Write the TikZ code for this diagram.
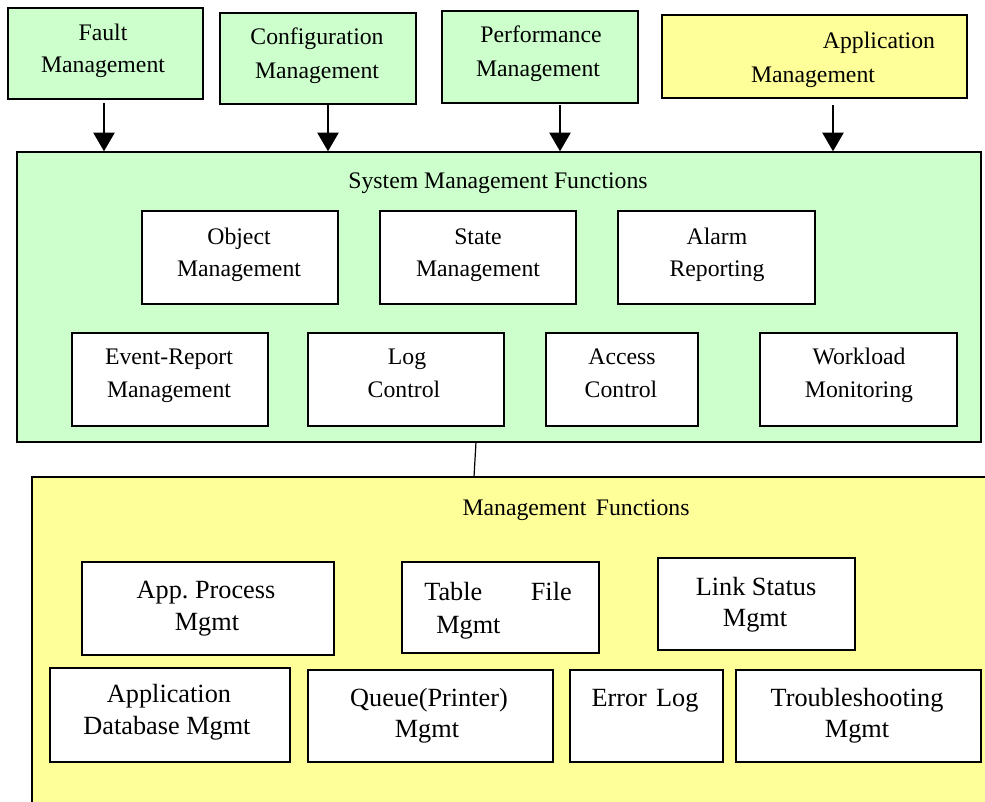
\documentclass[tikz,border=0pt]{standalone}
\usepackage{fontspec}
\setmainfont{Liberation Serif}
\usetikzlibrary{arrows.meta,fit}
\definecolor{mgreen}{HTML}{CCFFCC}
\definecolor{myellow}{HTML}{FFFF99}
\tikzset{
 boxg/.style={draw=black, line width=1.1pt, fill=mgreen, inner sep=0pt},
 boxy/.style={draw=black, line width=1.1pt, fill=myellow, inner sep=0pt},
 boxw/.style={draw=black, line width=1.1pt, fill=white, inner sep=0pt},
 tu/.style={inner sep=0pt, anchor=base, font=\fontsize{17.8}{21}\selectfont},
 tl/.style={inner sep=0pt, anchor=base, font=\fontsize{19.7}{23}\selectfont},
 arr/.style={line width=1.1pt, -{Triangle[length=14pt,width=16pt]}},
 conn/.style={line width=0.9pt},
}
\begin{document}
\begin{tikzpicture}[x=0.75pt,y=-0.75pt]
\useasboundingbox (0,0) rectangle (985,801);
\begin{scope}
\clip (0,0) rectangle (985,801);
% top boxes
\node[boxg, fit={(8,8) (203,99)}] (fault) {};
\node[tu] (faultA) at (103,40) {Fault};
\node[tu] (faultB) at (103,72) {Management};
\node[boxg, fit={(220,13) (416,104)}] (conf) {};
\node[tu] (confA) at (317,44) {Configuration};
\node[tu] (confB) at (317,78) {Management};
\node[boxg, fit={(442,11) (638,103)}] (perf) {};
\node[tu] (perfA) at (541,42) {Performance};
\node[tu] (perfB) at (538,76) {Management};
\node[boxy, fit={(662,15) (967,98)}] (app) {};
\node[tu] (appA) at (879,48) {Application};
\node[tu] (appB) at (813,82) {Management};
% system management functions
\node[boxg, fit={(17,152) (981,442)}] (sys) {};
\node[tu] (sysT) at (498,188) {System Management Functions};
\node[boxw, fit={(142,211) (338,304)}] (obj) {};
\node[tu] (objA) at (239,244) {Object};
\node[tu] (objB) at (239,276) {Management};
\node[boxw, fit={(380,211) (576,304)}] (state) {};
\node[tu] (stateA) at (478,244) {State};
\node[tu] (stateB) at (478,276) {Management};
\node[boxw, fit={(618,211) (815,304)}] (alarm) {};
\node[tu] (alarmA) at (717,244) {Alarm};
\node[tu] (alarmB) at (717,276) {Reporting};
\node[boxw, fit={(72,333) (268,426)}] (event) {};
\node[tu] (eventA) at (169,364) {Event-Report};
\node[tu] (eventB) at (169,397) {Management};
\node[boxw, fit={(308,333) (504,426)}] (log) {};
\node[tu] (logA) at (407,364) {Log};
\node[tu] (logB) at (404,397) {Control};
\node[boxw, fit={(546,333) (698,426)}] (access) {};
\node[tu] (accessA) at (622,364) {Access};
\node[tu] (accessB) at (621,397) {Control};
\node[boxw, fit={(760,333) (957,426)}] (work) {};
\node[tu] (workA) at (859,364) {Workload};
\node[tu] (workB) at (859,397) {Monitoring};
% arrows
\coordinate (s1) at (104,103);
\coordinate (s2) at (328,105);
\coordinate (s3) at (560,105);
\coordinate (s4) at (833,105);
\draw[arr] (s1) -- (s1 |- sys.north);
\draw[arr] (s2) -- (s2 |- sys.north);
\draw[arr] (s3) -- (s3 |- sys.north);
\draw[arr] (s4) -- (s4 |- sys.north);
% management functions
\node[boxy, fit={(32,477) (995,811)}] (mf) {};
\coordinate (c1) at (476,442);
\coordinate (c2) at (474,477);
\draw[conn] (c1) -- (c2);
\node[tu] (mfT) at (576,515) {Management\hspace{0.15em} Functions};
\node[boxw, fit={(82,562) (334,655)}] (proc) {};
\node[tl] (procA) at (206,598) {App.\ Process};
\node[tl] (procB) at (207,630) {Mgmt};
\node[boxw, fit={(402,562) (599,653)}] (table) {};
\node[tl, anchor=base west] (tableA) at (424,600) {Table};
\node[tl, anchor=base east] (tableB) at (572,600) {File};
\node[tl, anchor=base west] (tableC) at (436,633) {Mgmt};
\node[boxw, fit={(658,558) (855,650)}] (link) {};
\node[tl] (linkA) at (756,595) {Link Status};
\node[tl] (linkB) at (755,626) {Mgmt};
\node[boxw, fit={(50,668) (290,762)}] (adb) {};
\node[tl] (adbA) at (169,702) {Application};
\node[tl] (adbB) at (167,734) {Database Mgmt};
\node[boxw, fit={(308,670) (553,762)}] (queue) {};
\node[tl] (queueA) at (429,706) {Queue(Printer)};
\node[tl] (queueB) at (427,737) {Mgmt};
\node[boxw, fit={(570,670) (723,762)}] (err) {};
\node[tl] (errA) at (645,706) {Error\hspace{0.1em} Log};
\node[boxw, fit={(736,670) (981,762)}] (trouble) {};
\node[tl] (troubleA) at (857,706) {Troubleshooting};
\node[tl] (troubleB) at (857,737) {Mgmt};
\end{scope}
\end{tikzpicture}
\end{document}
